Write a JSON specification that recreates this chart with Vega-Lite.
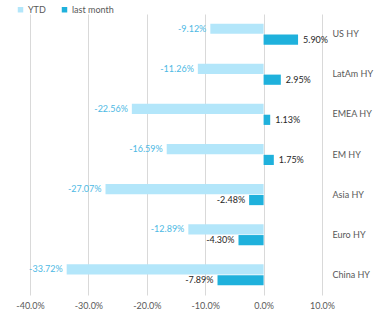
{
  "$schema": "https://vega.github.io/schema/vega-lite/v6.json",
  "width": 292,
  "height": 281,
  "autosize": "none",
  "padding": {"left": 30, "top": 14, "right": 64, "bottom": 27},
  "background": "white",
  "config": {
    "view": {"stroke": null},
    "font": "Lato",
    "locale": {"number": {"decimal": ".", "thousands": ",", "grouping": [3], "currency": ["$", ""], "minus": "-"}}
  },
  "data": {
    "values": [
      {"category": "US HY", "series": "YTD", "value": -0.0912},
      {"category": "US HY", "series": "last month", "value": 0.059},
      {"category": "LatAm HY", "series": "YTD", "value": -0.1126},
      {"category": "LatAm HY", "series": "last month", "value": 0.0295},
      {"category": "EMEA HY", "series": "YTD", "value": -0.2256},
      {"category": "EMEA HY", "series": "last month", "value": 0.0113},
      {"category": "EM HY", "series": "YTD", "value": -0.1659},
      {"category": "EM HY", "series": "last month", "value": 0.0175},
      {"category": "Asia HY", "series": "YTD", "value": -0.2707},
      {"category": "Asia HY", "series": "last month", "value": -0.0248},
      {"category": "Euro HY", "series": "YTD", "value": -0.1289},
      {"category": "Euro HY", "series": "last month", "value": -0.043},
      {"category": "China HY", "series": "YTD", "value": -0.3372},
      {"category": "China HY", "series": "last month", "value": -0.0789}
    ]
  },
  "encoding": {
    "y": {
      "field": "category", "type": "nominal",
      "sort": ["US HY", "LatAm HY", "EMEA HY", "EM HY", "Asia HY", "Euro HY", "China HY"],
      "scale": {"paddingInner": 0.475, "paddingOuter": 0.24},
      "axis": {"orient": "right", "title": null, "domain": false, "ticks": false, "labelPadding": 10, "labelFontSize": 9, "labelColor": "#595959", "labelFont": "Lato"}
    },
    "yOffset": {"field": "series", "type": "nominal", "sort": ["YTD", "last month"], "scale": {"paddingInner": 0.06}},
    "x": {
      "field": "value", "type": "quantitative",
      "scale": {"domain": [-0.4, 0.1], "nice": false, "zero": true},
      "axis": {"values": [-0.4, -0.3, -0.2, -0.1, 0, 0.1], "format": ".1%", "title": null, "domain": false, "ticks": false, "grid": true, "gridColor": "#d9d9d9", "gridWidth": 1, "labelPadding": 6, "labelFontSize": 9, "labelColor": "#595959", "labelFont": "Lato", "labelFlush": false}
    }
  },
  "layer": [
    {
      "mark": {"type": "bar"},
      "encoding": {
        "color": {
          "field": "series", "type": "nominal",
          "scale": {"domain": ["YTD", "last month"], "range": ["#b3e6fa", "#1fb1dc"]},
          "legend": {"title": null, "orient": "none", "legendX": -14, "legendY": -9, "direction": "horizontal", "symbolType": "square", "symbolSize": 30, "labelFontSize": 9, "labelColor": "#595959", "labelFont": "Lato", "columnPadding": 14, "labelOffset": 3, "symbolStrokeWidth": 0}
        }
      }
    },
    {
      "transform": [{"filter": "datum.value < 0"}],
      "mark": {"type": "text", "align": "right", "baseline": "middle", "dx": -4, "fontSize": 9, "font": "Lato"},
      "encoding": {
        "text": {"field": "value", "type": "quantitative", "format": ".2%"},
        "color": {"condition": {"test": "datum.series === 'YTD'", "value": "#4db9e4"}, "value": "#262626"}
      }
    },
    {
      "transform": [{"filter": "datum.value >= 0"}],
      "mark": {"type": "text", "align": "left", "baseline": "middle", "dx": 5, "fontSize": 9, "font": "Lato"},
      "encoding": {
        "text": {"field": "value", "type": "quantitative", "format": ".2%"},
        "color": {"value": "#262626"}
      }
    }
  ]
}
